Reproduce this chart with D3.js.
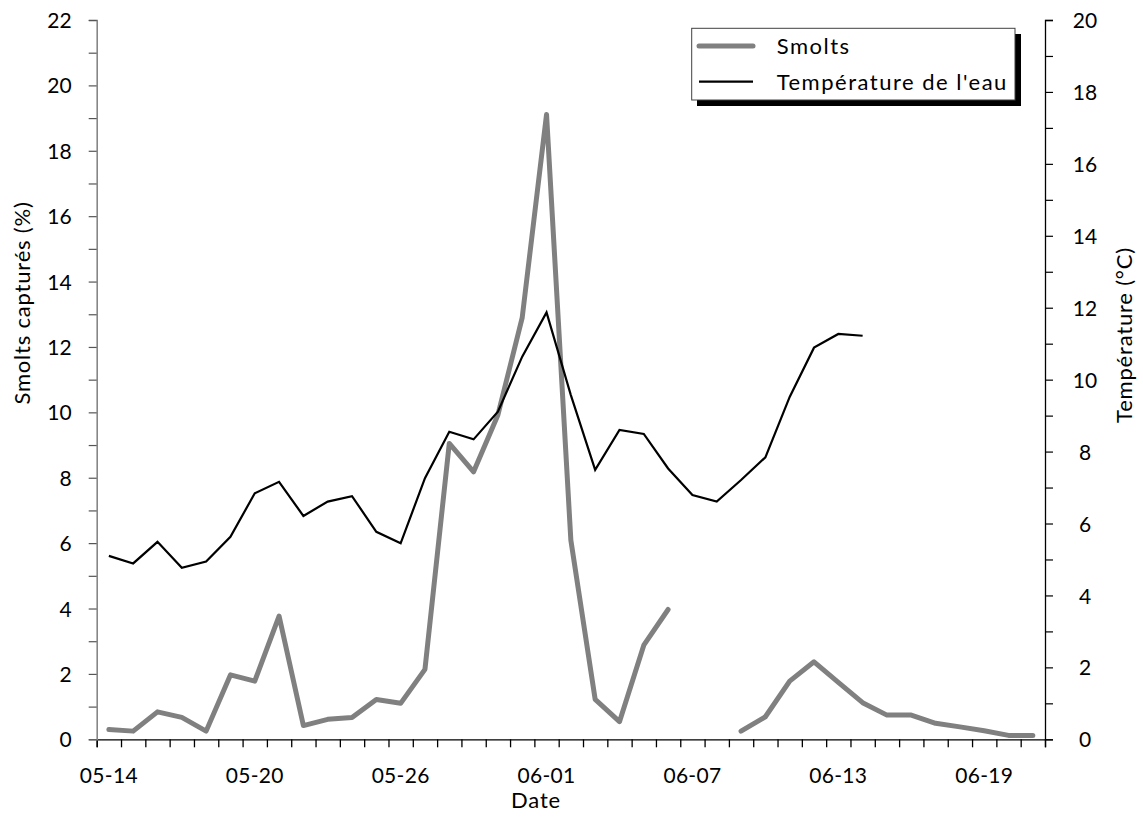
<!DOCTYPE html>
<html>
<head>
<meta charset="utf-8">
<script src="https://cdn.jsdelivr.net/npm/d3@7"></script>
<style>
  html, body { margin: 0; padding: 0; background: #fff; }
  svg { display: block; }
  text { font-family: Lato, "Open Sans", sans-serif; fill: #000; }
</style>
</head>
<body>
<svg id="chart" width="1143" height="817"></svg>
<script>
// ---- data ----
const dates = ["05-14","05-15","05-16","05-17","05-18","05-19","05-20","05-21","05-22","05-23",
  "05-24","05-25","05-26","05-27","05-28","05-29","05-30","05-31","06-01","06-02",
  "06-03","06-04","06-05","06-06","06-07","06-08","06-09","06-10","06-11","06-12",
  "06-13","06-14","06-15","06-16","06-17","06-18","06-19","06-20","06-21"];
const smolts = [0.30,0.25,0.84,0.67,0.25,1.97,1.78,3.77,0.42,0.61,
  0.67,1.22,1.10,2.14,9.05,8.18,9.92,12.90,19.11,6.09,
  1.22,0.54,2.88,3.97,null,null,0.25,0.69,1.78,2.37,
  1.74,1.12,0.74,0.74,0.49,0.38,0.26,0.12,0.12];
const temperature = [5.10,4.89,5.49,4.77,4.94,5.63,6.84,7.16,6.21,6.61,
  6.76,5.77,5.45,7.26,8.55,8.34,9.11,10.64,11.87,9.57,
  7.49,8.60,8.49,7.53,6.79,6.61,7.21,7.84,9.52,10.89,
  11.27,11.22,null,null,null,null,null,null,null];
const xTickLabels = ["05-14","05-20","05-26","06-01","06-07","06-13","06-19"];
const leftTicks = [0,2,4,6,8,10,12,14,16,18,20,22];
const rightTicks = [0,2,4,6,8,10,12,14,16,18,20];
const seriesNames = ["Smolts", "Température de l'eau"];

// ---- layout ----
const svg = d3.select("#chart");
const L = 96.7, R = 1045, T = 20, B = 739.3;
const FS = 21;

const x = d3.scaleBand().domain(dates).range([L, R]).paddingInner(0).paddingOuter(0);
const xi = d3.scaleLinear().domain([0, dates.length]).range([L, R]);
const yL = d3.scaleLinear().domain([0, 22]).range([B, T]);
const yR = d3.scaleLinear().domain([0, 20]).range([B, T]);
const cx = d => x(d) + x.bandwidth() / 2;

// x axis ticks (category boundaries)
const gx = svg.append("g").attr("transform", `translate(0,${B})`)
  .call(d3.axisBottom(xi).tickValues(d3.range(dates.length + 1)).tickSize(8).tickFormat(""));
gx.select(".domain").attr("stroke", "#000").attr("stroke-width", 1.3);
gx.selectAll(".tick line").attr("stroke", "#000").attr("stroke-width", 1.3);

// x labels
const gxl = svg.append("g").attr("transform", `translate(0,${B})`)
  .call(d3.axisBottom(x).tickValues(xTickLabels).tickSize(0).tickPadding(28));
gxl.select(".domain").remove();
gxl.selectAll("text").attr("font-size", FS).style("font-family", "Lato")
  .style("letter-spacing", "0.3px").attr("dy", 0).attr("y", 44);

// left axis
const gl = svg.append("g").attr("transform", `translate(${L},0)`)
  .call(d3.axisLeft(yL).tickValues(d3.range(0, 23, 1)).tickSize(8)
    .tickFormat(d => leftTicks.includes(d) ? d : ""));
gl.select(".domain").attr("stroke", "#868686").attr("stroke-width", 1.6);
gl.selectAll(".tick line").attr("stroke", "#555").attr("stroke-width", 1.2);
gl.selectAll("text").attr("font-size", FS).style("font-family", "Lato")
  .attr("x", -25).attr("dy", "0.36em");

// right axis
const gr = svg.append("g").attr("transform", `translate(${R},0)`)
  .call(d3.axisRight(yR).tickValues(d3.range(0, 21, 1)).tickSize(8)
    .tickFormat(d => rightTicks.includes(d) ? d : ""));
gr.select(".domain").attr("stroke", "#000").attr("stroke-width", 1.3);
gr.selectAll(".tick line").attr("stroke", "#000").attr("stroke-width", 1.2);
gr.selectAll("text").attr("font-size", FS).style("font-family", "Lato")
  .attr("text-anchor", "middle").attr("x", 40).attr("dy", "0.36em");

// axis titles
const TS = 22;
svg.append("text").attr("x", 536).attr("y", 808).attr("text-anchor", "middle")
  .attr("font-size", TS).style("letter-spacing", "0.8px").text("Date");
svg.append("text").attr("transform", "translate(30,303) rotate(-90)")
  .attr("text-anchor", "middle").attr("font-size", TS).style("letter-spacing", "0.8px")
  .text("Smolts capturés (%)");
svg.append("text").attr("transform", "translate(1132,335) rotate(-90)")
  .attr("text-anchor", "middle").attr("font-size", TS).style("letter-spacing", "0.8px")
  .text("Température (°C)");

// lines
const lineS = d3.line().defined(d => d[1] != null).x(d => cx(d[0])).y(d => yL(d[1]));
const lineT = d3.line().defined(d => d[1] != null).x(d => cx(d[0])).y(d => yR(d[1]));

svg.append("path").datum(dates.map((d, i) => [d, smolts[i]]))
  .attr("d", lineS).attr("fill", "none").attr("stroke", "#808080")
  .attr("stroke-width", 5).attr("stroke-linejoin", "round").attr("stroke-linecap", "round");
svg.append("path").datum(dates.map((d, i) => [d, temperature[i]]))
  .attr("d", lineT).attr("fill", "none").attr("stroke", "#000")
  .attr("stroke-width", 2.2).attr("stroke-linejoin", "miter");

// legend
const lg = svg.append("g");
lg.append("rect").attr("x", 697).attr("y", 34).attr("width", 324).attr("height", 72).attr("fill", "#000");
lg.append("rect").attr("x", 691.7).attr("y", 28.3).attr("width", 323.3).attr("height", 71.7)
  .attr("fill", "#fff").attr("stroke", "#404040").attr("stroke-width", 1);
lg.append("line").attr("x1", 699).attr("x2", 753).attr("y1", 46).attr("y2", 46)
  .attr("stroke", "#808080").attr("stroke-width", 5).attr("stroke-linecap", "round");
lg.append("line").attr("x1", 699).attr("x2", 753).attr("y1", 81.7).attr("y2", 81.7)
  .attr("stroke", "#000").attr("stroke-width", 2.2);
lg.append("text").attr("x", 776.7).attr("y", 54).attr("font-size", 22)
  .style("letter-spacing", "1.5px").text(seriesNames[0]);
lg.append("text").attr("x", 776.7).attr("y", 89.5).attr("font-size", 22)
  .style("letter-spacing", "1.5px").text(seriesNames[1]);
</script>
</body>
</html>
